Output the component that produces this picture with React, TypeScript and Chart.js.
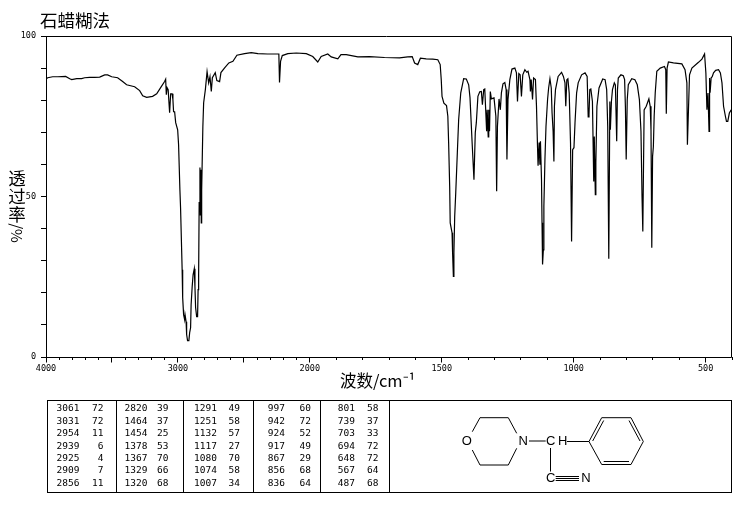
import React, { useEffect, useRef } from "react";
import { Chart, LineController, LineElement, PointElement, LinearScale } from "chart.js";

const wavenumbers = [
  3998, 3987, 3949, 3911, 3851, 3820, 3805, 3767, 3730, 3707, 3669, 3631, 3593, 3555, 3533, 3502, 3457, 3419, 3389, 3328,
  3290, 3267, 3237, 3192, 3161, 3131, 3101, 3093, 3088, 3082, 3074, 3068, 3063, 3055, 3044, 3038, 3033, 3025, 3017, 3002,
  2995, 2985, 2980, 2968, 2964, 2957, 2949, 2946, 2938, 2934, 2927, 2917, 2911, 2904, 2900, 2892, 2885, 2876, 2871, 2866,
  2858, 2851, 2847, 2843, 2839, 2833, 2830, 2826, 2823, 2820, 2811, 2805, 2792, 2779, 2767, 2757, 2747, 2739, 2717, 2705,
  2684, 2674, 2646, 2614, 2583, 2553, 2495, 2444, 2394, 2321, 2235, 2230, 2222, 2209, 2167, 2103, 2027,
  1989, 1970, 1957, 1932, 1919, 1894, 1882, 1862, 1818, 1774, 1717, 1660, 1629, 1612, 1603, 1591, 1581, 1559, 1534,
  1515, 1506, 1502, 1499, 1492, 1482, 1477, 1474, 1470, 1468, 1461, 1459, 1456, 1454, 1451, 1447, 1441, 1436, 1428, 1417,
  1407, 1398, 1393, 1385, 1378, 1373, 1369, 1363, 1356, 1350, 1346, 1341, 1337, 1330, 1328, 1324, 1322, 1319, 1316, 1312,
  1302, 1295, 1292, 1289, 1283, 1278, 1274, 1268, 1261, 1256, 1253, 1249, 1242, 1234, 1223, 1217, 1213, 1208, 1203, 1198,
  1193, 1185, 1178, 1173, 1166, 1164, 1161, 1156, 1152, 1145, 1141, 1137, 1135, 1131, 1128, 1126, 1122, 1120, 1118, 1115,
  1113, 1109, 1105, 1099, 1095, 1090, 1085, 1082, 1078, 1075, 1073, 1069, 1059, 1046, 1039, 1033, 1030, 1026, 1022, 1017,
  1012, 1008, 1004, 999, 995, 989, 983, 970, 957, 949, 945, 942, 939, 935, 929, 924, 922, 918, 916, 912,
  904, 890, 881, 875, 871, 867, 863, 861, 857, 853, 846, 842, 837, 834, 831, 821, 812, 807, 804, 801,
  797, 793, 780, 768, 759, 751, 745, 741, 738, 737, 733, 725, 715, 710, 707, 704, 701, 698, 695, 691,
  685, 672, 656, 651, 649, 646, 641, 622, 590, 578, 571, 569, 565, 561, 552, 527, 514, 504, 499, 495,
  491, 487, 485, 483, 479, 475, 470, 462, 451, 444, 438, 432, 425, 421, 416, 410, 403,
];

const transmittance = [
  86.7, 87.0, 87.3, 87.3, 87.4, 86.7, 86.4, 86.7, 86.7, 87.0, 87.1, 87.1, 87.2, 87.9, 87.9, 87.3, 87.0, 85.8, 84.8, 84.2,
  83.0, 81.4, 80.9, 81.2, 82.0, 83.9, 85.8, 86.5, 81.7, 83.9, 83.3, 83.3, 76.1, 82.0, 82.0, 80.2, 76.4, 76.4, 73.0, 70.8,
  66.1, 52.1, 46.5, 27.2, 18.5, 13.2, 11.6, 13.2, 11.0, 7.0, 5.1, 5.1, 7.6, 9.1, 16.3, 21.9, 25.6, 27.5, 21.9, 15.4,
  12.6, 12.6, 21.0, 25.6, 48.1, 59.0, 44.3, 58.3, 41.8, 52.1, 71.7, 79.2, 83.3, 88.9, 85.4, 87.3, 82.7, 87.0, 88.6, 86.1,
  85.8, 88.6, 90.1, 91.6, 92.1, 94.0, 94.5, 94.8, 94.5, 94.4, 94.4, 85.5, 92.1, 93.9, 94.5, 94.7, 94.5,
  93.6, 91.9, 93.6, 94.4, 93.5, 92.9, 94.2, 94.2, 93.5, 93.6, 93.3, 93.2, 93.5, 93.6, 91.6, 91.1, 93.1, 92.9, 92.8,
  92.6, 91.1, 86.4, 81.2, 79.1, 78.3, 75.0, 66.8, 53.1, 41.8, 38.7, 32.5, 25.1, 32.5, 43.8, 51.2, 63.6, 73.9, 82.3, 86.7,
  86.6, 84.8, 80.8, 66.8, 55.2, 69.9, 73.0, 81.2, 82.6, 82.7, 78.6, 83.3, 83.5, 70.3, 77.0, 68.6, 77.0, 70.3, 82.7, 80.4,
  80.7, 75.0, 51.6, 71.8, 80.4, 77.0, 82.3, 85.1, 85.5, 83.3, 61.5, 80.2, 86.4, 89.7, 90.0, 88.5, 79.6, 88.3, 87.9, 81.2,
  87.9, 89.5, 88.7, 89.0, 86.4, 82.7, 86.4, 80.2, 86.9, 86.4, 78.1, 65.2, 59.6, 66.8, 59.9, 67.2, 55.2, 41.8, 28.8, 33.4,
  46.9, 61.5, 71.8, 80.2, 83.8, 86.7, 83.8, 76.1, 70.3, 60.9, 78.1, 83.3, 87.4, 88.7, 87.4, 85.4, 78.1, 86.4, 86.7, 82.2,
  66.7, 36.0, 64.6, 65.2, 73.0, 82.2, 85.4, 87.9, 88.5, 87.4, 74.8, 75.5, 83.3, 83.5, 79.6, 54.7, 68.7, 50.6, 60.5, 78.1,
  83.8, 86.6, 86.4, 83.3, 71.8, 30.6, 79.6, 70.8, 79.6, 83.3, 85.4, 84.8, 67.2, 83.3, 86.9, 87.9, 87.6, 86.4, 78.0, 61.5,
  80.2, 84.8, 86.7, 86.4, 84.8, 80.2, 70.3, 50.0, 39.1, 47.4, 77.0, 78.1, 80.4, 78.1, 70.8, 34.0, 62.5, 65.6, 75.0, 82.2,
  89.0, 90.0, 90.5, 89.5, 75.8, 90.0, 91.9, 91.6, 91.3, 89.5, 85.4, 66.1, 77.0, 87.9, 90.0, 91.8, 92.8, 94.4, 88.5, 77.0,
  82.2, 70.3, 86.9, 82.3, 87.0, 87.3, 88.5, 89.3, 89.5, 88.5, 85.4, 78.1, 75.0, 73.4, 73.4, 76.0, 77.0,
];

const xMinor = [
  4000, 3900, 3800, 3700, 3600, 3500, 3400, 3300, 3200, 3100, 3000, 2900, 2800, 2700, 2600, 2500, 2400, 2300, 2200, 2100,
  2000, 1900, 1800, 1700, 1600, 1500, 1400, 1300, 1200, 1100, 1000, 900, 800, 700, 600, 500, 400,
];
const xLabelled = [4000, 3000, 2000, 1500, 1000, 500];
const yLabelled = [0, 50, 100];

const title = "石蜡糊法";
const xTitle = "波数/cm⁻¹";
const yTitleChars = ["透", "过", "率"];
const yTitleUnit = "/%";

const peakWave = [
  ["3061", "3031", "2954", "2939", "2925", "2909", "2856"],
  ["2820", "1464", "1454", "1378", "1367", "1329", "1320"],
  ["1291", "1251", "1132", "1117", "1080", "1074", "1007"],
  ["997", "942", "924", "917", "867", "856", "836"],
  ["801", "739", "703", "694", "648", "567", "487"],
];
const peakT = [
  ["72", "72", "11", "6", "4", "7", "11"],
  ["39", "37", "25", "53", "70", "66", "68"],
  ["49", "58", "57", "27", "70", "58", "34"],
  ["60", "72", "52", "49", "29", "68", "64"],
  ["58", "37", "33", "72", "72", "64", "68"],
];

const MONO = '"DejaVu Sans Mono", monospace';
const CJK = '"Noto Sans CJK SC", sans-serif';
const SANS = '"Liberation Sans", sans-serif';

// Wavenumber axis of an IR chart: the scale doubles below 2000 cm-1.
class IrScale extends LinearScale {
  static id = "irWavenumber";
  static defaults = {};
  getPixelForValue(v: number) {
    const s = this as any;
    const u = v >= 2000 ? 4000 - v : 2000 + (2000 - v) * 2;
    return s.left + (u / 5200) * s.width;
  }
  getValueForPixel(p: number) {
    const s = this as any;
    const u = ((p - s.left) / s.width) * 5200;
    return u <= 2000 ? 4000 - u : 2000 - (u - 2000) / 2;
  }
}

Chart.register(LineController, LineElement, PointElement, LinearScale, IrScale);

const line = (c: CanvasRenderingContext2D, pts: number[]) => {
  c.beginPath();
  c.moveTo(pts[0], pts[1]);
  for (let i = 2; i < pts.length; i += 2) c.lineTo(pts[i], pts[i + 1]);
  c.stroke();
};

const framePlugin = {
  id: "frame",
  afterDraw(chart: any) {
    const c = chart.ctx as CanvasRenderingContext2D;
    const { left, right, top, bottom } = chart.chartArea;
    const x = chart.scales.x;
    c.save();
    c.strokeStyle = "#000";
    c.fillStyle = "#000";
    c.lineWidth = 1;
    const L = Math.round(left) + 0.5, R = Math.round(right) - 0.5, T = Math.round(top) + 0.5, B = Math.round(bottom) + 0.5;
    line(c, [L - 5, T, R, T, R, B]);
    line(c, [L, T, L, B]);
    line(c, [L, B, R, B]);
    xMinor.filter((v) => v % 500 === 0).forEach((v) => {
      const p = Math.round(x.getPixelForValue(v) - 0.5) + 0.5;
      line(c, [p, B, p, B + 5]);
    });

    // titles
    c.textBaseline = "middle";
    c.textAlign = "left";
    c.font = `17.5px ${CJK}`;
    c.fillText(title, 40, 20);
    c.font = `16.5px ${CJK}`;
    c.fillText(xTitle, 340, 381);
    c.font = `17.5px ${CJK}`;
    c.textAlign = "center";
    yTitleChars.forEach((ch, i) => c.fillText(ch, 17, 178 + i * 18));
    c.save();
    c.translate(17, 233);
    c.rotate(Math.PI / 2);
    c.font = `15px ${CJK}`;
    c.fillText(yTitleUnit, 0, 0);
    c.restore();

    // peak table
    const dividers = [116.5, 183.5, 253.5, 320.5, 389.5];
    const waveRight = [79.5, 147.5, 217, 285, 355];
    const valueRight = [103.5, 168.5, 240, 311, 378.5];
    c.strokeRect(47.5, 400.5, 684, 92);
    dividers.forEach((d) => line(c, [d, 400.5, d, 492.5]));
    c.font = `9.5px ${MONO}`;
    c.textAlign = "right";
    peakWave.forEach((col, j) =>
      col.forEach((w, i) => {
        const y = 409 + i * 12.4;
        c.fillText(w, waveRight[j], y);
        c.fillText(peakT[j][i], valueRight[j], y);
      })
    );

    // structure
    c.font = `13px ${SANS}`;
    c.textAlign = "center";
    c.fillText("O", 466.7, 441.5);
    c.fillText("N", 523.3, 441.5);
    c.fillText("C", 550.7, 441.5);
    c.fillText("H", 562.7, 441.5);
    c.fillText("C", 550.7, 478.5);
    c.fillText("N", 586, 478.5);
    line(c, [472.3, 450, 480, 465, 508.3, 465, 516.7, 448.3]);
    line(c, [472.3, 431.7, 480, 417.7, 508.3, 417.7, 516.7, 433.3]);
    line(c, [529, 441, 545.7, 441]);
    line(c, [567, 441.5, 589, 441.5]);
    line(c, [589, 441.5, 601.7, 417.7, 631, 417.7, 643.3, 441.5, 631, 464.5, 601.7, 464.5, 589, 441.5]);
    line(c, [592.7, 441, 603.7, 420.5]);
    line(c, [629, 420.5, 640, 441]);
    line(c, [603.7, 461.5, 629, 461.5]);
    line(c, [550.5, 448, 550.5, 471.5]);
    [476.5, 478.5, 480.5].forEach((y) => line(c, [555.7, y, 579, y]));
    c.restore();
  },
};

export default function App() {
  const ref = useRef<HTMLCanvasElement>(null);
  useEffect(() => {
    const chart = new Chart(ref.current!, {
      type: "line",
      data: {
        datasets: [
          {
            data: wavenumbers.map((x, i) => ({ x, y: transmittance[i] })),
            borderColor: "#000",
            borderWidth: 1.2,
            pointRadius: 0,
            tension: 0,
            fill: false,
          },
        ],
      },
      options: {
        animation: false,
        responsive: false,
        devicePixelRatio: 1,
        layout: { padding: { left: 0, right: 5, top: 36, bottom: 133 } },
        plugins: { legend: { display: false }, tooltip: { enabled: false } },
        scales: {
          x: {
            type: "irWavenumber",
            min: 400,
            max: 4000,
            afterFit: (s: any) => {
              s.height = 20;
              s.paddingLeft = 0;
              s.paddingRight = 0;
            },
            afterBuildTicks: (s: any) => {
              s.ticks = xMinor.map((value) => ({ value }));
            },
            grid: { drawOnChartArea: false, tickLength: 3, color: "#000", tickColor: "#000" },
            border: { display: false },
            ticks: {
              autoSkip: false,
              maxRotation: 0,
              padding: 4,
              color: "#000",
              font: { family: MONO, size: 8.5 },
              callback: (v: any) => (xLabelled.includes(Number(v)) ? String(v) : ""),
            },
          },
          y: {
            type: "linear",
            min: 0,
            max: 100,
            afterFit: (s: any) => {
              s.width = 46;
              s.paddingTop = 0;
              s.paddingBottom = 0;
            },
            grid: { drawOnChartArea: false, tickLength: 5, color: "#000", tickColor: "#000" },
            border: { display: false },
            ticks: {
              stepSize: 10,
              padding: 5,
              color: "#000",
              font: { family: MONO, size: 8.5 },
              callback: (v: any) => (yLabelled.includes(Number(v)) ? String(v) : ""),
            },
          },
        },
      } as any,
      plugins: [framePlugin],
    });
    return () => chart.destroy();
  }, []);
  return (
    <canvas
      ref={ref}
      width={737}
      height={510}
      style={{ position: "fixed", left: 0, top: 0, width: 737, height: 510, background: "#fff" }}
    />
  );
}
